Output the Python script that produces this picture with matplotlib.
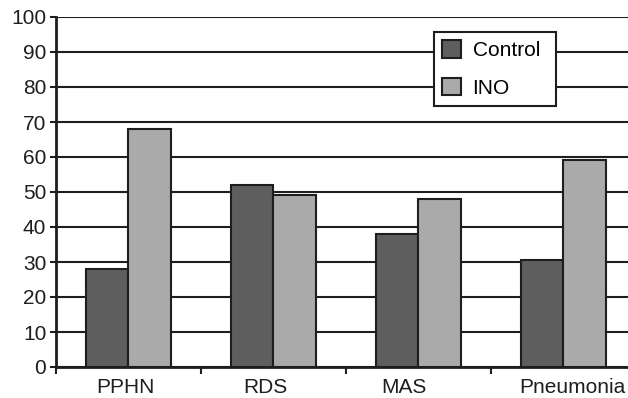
import numpy as np
import matplotlib.pyplot as plt
import matplotlib.transforms as mtransforms

categories = ['PPHN', 'RDS', 'MAS', 'Pneumonia']
control = [28, 52, 38, 30.5]
ino = [68, 49, 48, 59]
label_shift_px = [-3, -8, -15, 9]  # labels in the original are not quite centred

plt.rcParams['font.family'] = ['Liberation Sans', 'DejaVu Sans']

fig = plt.figure(figsize=(6.28, 3.98), dpi=100)
ax = fig.add_axes([56 / 628, 31 / 398, 1 - 56 / 628, 350 / 398])

x = np.arange(len(categories))
w = 0.293
edge = '#1e1e1e'
ax.bar(x - w / 2, control, w, color='#5e5e5e', edgecolor=edge, linewidth=1.5, label='Control', zorder=3)
ax.bar(x + w / 2, ino, w, color='#aaaaaa', edgecolor=edge, linewidth=1.5, label='INO', zorder=3)

ax.set_ylim(0, 100)
ax.set_xlim(-0.5, 3.445)
ax.set_yticks(range(0, 101, 10))
ax.yaxis.grid(True, color=edge, linewidth=1.5, zorder=0)
ax.set_axisbelow(True)

# category labels centered, ticks on boundaries
ax.set_xticks(x)
ax.set_xticklabels(categories)
ax.tick_params(axis='x', which='major', length=0, pad=8, labelsize=15, colors='#1e1e1e')
ax.set_xticks(np.arange(-0.5, 3.5, 1), minor=True)
ax.tick_params(axis='x', which='minor', length=5, width=1.5, color=edge, direction='out')
ax.tick_params(axis='y', length=4, width=1.5, color=edge, labelsize=15, pad=3, labelcolor='#1e1e1e')

for lbl, dx in zip(ax.get_xticklabels(), label_shift_px):
    lbl.set_transform(lbl.get_transform() + mtransforms.ScaledTranslation(dx / 100, 0, fig.dpi_scale_trans))

for s in ['top', 'right']:
    ax.spines[s].set_visible(False)
for s in ['left', 'bottom']:
    ax.spines[s].set_linewidth(2)
    ax.spines[s].set_color(edge)

leg = ax.legend(loc='upper left', bbox_to_anchor=(434 / 628, 1 - 104 / 398, 122 / 628, 72 / 398),
                bbox_transform=fig.transFigure, mode='expand', fontsize=15, frameon=True,
                fancybox=False, framealpha=1, edgecolor=edge, borderpad=0.4,
                borderaxespad=0, handlelength=0.9, handleheight=0.9,
                handletextpad=0.55, labelspacing=0.85)
leg.get_frame().set_linewidth(1.5)
leg.set_zorder(5)

fig.savefig('out.png', dpi=100)
